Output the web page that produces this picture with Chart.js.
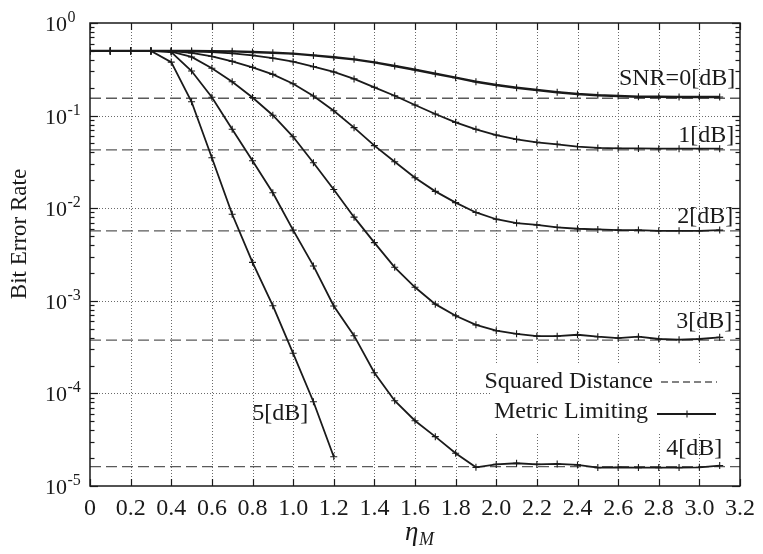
<!DOCTYPE html>
<html><head><meta charset="utf-8">
<script src="https://cdn.jsdelivr.net/npm/chart.js@4.4.1/dist/chart.umd.min.js"></script>
<style>html,body{margin:0;padding:0;background:#fff}#c{display:block}</style>
</head><body>
<canvas id="c" width="763" height="554"></canvas>
<script>
// ---- data ----
const etaM = [0,0.1,0.2,0.3,0.4,0.5,0.6,0.7,0.8,0.9,1.0,1.1,1.2,1.3,1.4,1.5,1.6,1.7,1.8,1.9,2.0,2.1,2.2,2.3,2.4,2.5,2.6,2.7,2.8,2.9,3.0,3.1];
const snr0 = [0.5,0.5,0.5,0.5,0.5,0.499,0.497,0.494,0.487,0.478,0.467,0.447,0.426,0.405,0.376,0.343,0.313,0.283,0.257,0.232,0.214,0.2,0.189,0.179,0.171,0.166,0.163,0.16,0.16,0.159,0.159,0.159];
const snr1 = [0.5,0.5,0.5,0.5,0.5,0.495,0.486,0.47,0.447,0.417,0.382,0.338,0.296,0.249,0.202,0.164,0.13,0.104,0.0846,0.0711,0.0617,0.0554,0.0515,0.049,0.0463,0.0448,0.0443,0.0442,0.0439,0.0439,0.0439,0.0439];
const snr2 = [0.5,0.5,0.5,0.5,0.497,0.475,0.435,0.385,0.332,0.279,0.221,0.163,0.113,0.0741,0.0474,0.0318,0.0213,0.0152,0.0115,0.009,0.0076,0.0069,0.0066,0.0062,0.006,0.0059,0.0058,0.0058,0.0057,0.0057,0.0057,0.0058];
const snr3 = [0.5,0.5,0.5,0.5,0.49,0.43,0.324,0.232,0.157,0.101,0.059,0.031,0.0159,0.008,0.00425,0.0023,0.0014,0.00092,0.00069,0.00055,0.000476,0.00044,0.000415,0.000415,0.00043,0.00041,0.000396,0.00041,0.000387,0.00038,0.000387,0.000403];
const snr4 = [0.5,0.5,0.5,0.5,0.485,0.303,0.158,0.0711,0.0326,0.0147,0.0058,0.00238,0.00088,0.00042,0.000167,0.0000834,0.0000507,0.0000341,0.0000226,0.0000159,0.0000171,0.0000176,0.0000171,0.0000173,0.0000169,0.0000158,0.0000159,0.0000158,0.0000158,0.0000158,0.0000159,0.0000166];
const snr5 = [0.5,0.5,0.5,0.5,0.378,0.141,0.0351,0.0086,0.0026,0.000885,0.000271,0.0000813,0.0000207];
const squaredDistance = [0.154,0.0426,0.0057,0.000377,0.0000162];
const xTickValues = [0,0.2,0.4,0.6,0.8,1.0,1.2,1.4,1.6,1.8,2.0,2.2,2.4,2.6,2.8,3.0,3.2];
const xTickLabels = ['0','0.2','0.4','0.6','0.8','1.0','1.2','1.4','1.6','1.8','2.0','2.2','2.4','2.6','2.8','3.0','3.2'];
const yDecades = [1e-5,1e-4,1e-3,1e-2,1e-1,1];
const yExponents = ['-5','-4','-3','-2','-1','0'];
const curveLabels = ['SNR=0[dB]','1[dB]','2[dB]','3[dB]','4[dB]','5[dB]'];
// label anchor (data coords) and alignment
const labelPos = [
  {x:3.176, y:0.214, align:'right'},
  {x:3.172, y:0.0523, align:'right'},
  {x:3.167, y:0.00692, align:'right'},
  {x:3.162, y:0.000508, align:'right'},
  {x:3.113, y:0.0000216, align:'right'},
  {x:0.799, y:0.0000516, align:'left'}
];

const SERIF = '"Liberation Serif","Times New Roman",serif';
const INK = '#1a1a1a';

function pts(xs, ys){ return ys.map((v,i)=>({x:xs[i], y:v})); }

const curves = [snr0,snr1,snr2,snr3,snr4,snr5].map((s,i)=>({
  data: pts(etaM, s),
  borderColor: INK, borderWidth: i===0 ? 2.4 : 1.8,
  pointStyle: 'cross', pointRadius: 3.5, pointBorderWidth: 1.1,
  pointBorderColor: INK, pointBackgroundColor: INK,
  tension: 0, fill: false
}));
const dashes = squaredDistance.map(v=>({
  data: [{x:0,y:v},{x:3.2,y:v}],
  borderColor: '#5a5a5a', borderWidth: 1.3, borderDash: [11,5],
  pointRadius: 0, tension: 0, fill: false
}));

function line(ctx,x1,y1,x2,y2){ ctx.beginPath(); ctx.moveTo(x1,y1); ctx.lineTo(x2,y2); ctx.stroke(); }

const deco = {
  id: 'deco',
  beforeDatasetsDraw(chart){
    const {ctx, chartArea:a, scales:{x,y}} = chart;
    ctx.save();
    ctx.strokeStyle = '#6a6a6a'; ctx.lineWidth = 1; ctx.setLineDash([1,2]);
    xTickValues.forEach(v=>{
      if (v<=0 || v>=3.2) return;
      const px = Math.round(x.getPixelForValue(v))+0.5;
      line(ctx, px, a.top, px, a.bottom);
    });
    yDecades.forEach(v=>{
      if (v<=1e-5 || v>=1) return;
      const py = Math.round(y.getPixelForValue(v))+0.5;
      line(ctx, a.left, py, a.right, py);
    });
    ctx.setLineDash([]);
    // legend background (blanks the grid)
    ctx.fillStyle = '#fff';
    ctx.fillRect(a.left+400, 365, a.right-(a.left+400)-1, 68);
    ctx.restore();
  },
  afterDatasetsDraw(chart){
    const {ctx, chartArea:a, scales:{x,y}} = chart;
    ctx.save();
    // frame
    ctx.strokeStyle = INK; ctx.lineWidth = 1.5;
    ctx.strokeRect(a.left, a.top, a.right-a.left, a.bottom-a.top);
    // x ticks (inward, bottom & top)
    ctx.lineWidth = 1.2;
    xTickValues.forEach(v=>{
      const px = Math.round(x.getPixelForValue(v))+0.5;
      line(ctx, px, a.bottom, px, a.bottom-7);
      line(ctx, px, a.top, px, a.top+7);
    });
    // y ticks, major and minor, both sides
    yDecades.forEach(d=>{
      for (let k=1;k<=9;k++){
        const v = d*k; if (v>1.0000001) break;
        const py = Math.round(y.getPixelForValue(v))+0.5;
        const L = k===1 ? 8 : 4.5;
        line(ctx, a.left, py, a.left+L, py);
        line(ctx, a.right, py, a.right-L, py);
      }
    });
    // y tick labels 10^n
    ctx.fillStyle = INK;
    yDecades.forEach((d,i)=>{
      const py = y.getPixelForValue(d);
      ctx.font = '22px '+SERIF; ctx.textAlign='right'; ctx.textBaseline='alphabetic';
      ctx.fillText('10', 67, py+8);
      ctx.font = '16px '+SERIF; ctx.textAlign='left';
      ctx.fillText(yExponents[i], 67.5, py-1);
    });
    // curve labels
    ctx.font = '24px '+SERIF; ctx.textBaseline='alphabetic';
    curveLabels.forEach((t,i)=>{
      const p = labelPos[i];
      ctx.textAlign = p.align;
      ctx.fillText(t, x.getPixelForValue(p.x), y.getPixelForValue(p.y));
    });
    // legend
    ctx.textAlign='right';
    ctx.fillText('Squared Distance', 653, 388);
    ctx.fillText('Metric Limiting', 648, 418);
    ctx.strokeStyle = '#5a5a5a'; ctx.lineWidth = 1.3; ctx.setLineDash([7,4]);
    line(ctx, 661, 382, 717, 382);
    ctx.setLineDash([]);
    ctx.strokeStyle = INK; ctx.lineWidth = 1.8;
    line(ctx, 657, 414, 716, 414);
    ctx.lineWidth = 1.1;
    line(ctx, 687, 410.5, 687, 417.5);
    // axis titles
    ctx.font = '23px '+SERIF; ctx.textAlign='center'; ctx.textBaseline='middle';
    ctx.save(); ctx.translate(20, 234); ctx.rotate(-Math.PI/2);
    ctx.fillText('Bit Error Rate', 0, 0); ctx.restore();
    ctx.textAlign='left'; ctx.textBaseline='alphabetic';
    ctx.font = 'italic 27px '+SERIF;
    ctx.fillText('η', 405, 540);
    ctx.font = 'italic 18px '+SERIF;
    ctx.fillText('M', 419, 545);
    ctx.restore();
  }
};

new Chart(document.getElementById('c').getContext('2d'), {
  type: 'line',
  data: { datasets: curves.concat(dashes) },
  options: {
    responsive: false, animation: false, devicePixelRatio: 1,
    layout: { padding: { top: 23, right: 20, left: 0, bottom: 0 } },
    plugins: { legend: { display: false }, tooltip: { enabled: false } },
    scales: {
      x: {
        type: 'linear', min: 0, max: 3.2,
        afterBuildTicks: s => { s.ticks = xTickValues.map(v=>({value:v})); },
        afterFit: s => { s.height = 68; },
        ticks: { callback: (v,i) => xTickLabels[i], font: { family: SERIF, size: 24 }, color: INK, padding: 8, maxRotation: 0, autoSkip: false },
        grid: { display: false, drawTicks: false }, border: { display: false }
      },
      y: {
        type: 'logarithmic', min: 1e-5, max: 1,
        afterBuildTicks: s => { s.ticks = yDecades.map(v=>({value:v})); },
        afterFit: s => { s.width = 90; },
        ticks: { display: false },
        grid: { display: false, drawTicks: false }, border: { display: false }
      }
    }
  },
  plugins: [deco]
});
</script>
</body></html>
